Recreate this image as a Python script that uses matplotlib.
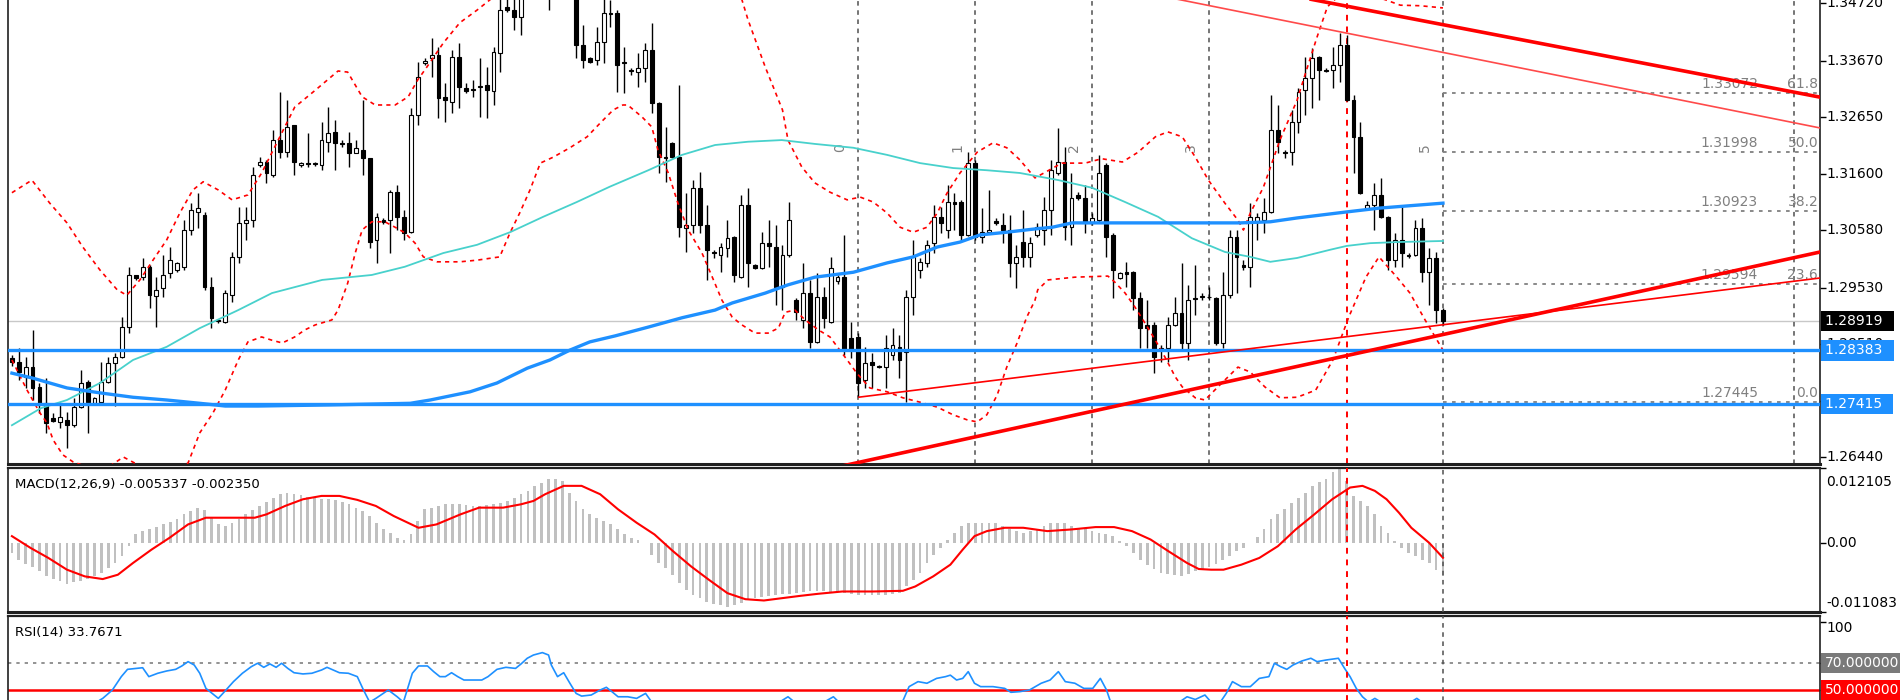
import numpy as np
import matplotlib
matplotlib.use('Agg')
import matplotlib.pyplot as plt
from matplotlib.transforms import blended_transform_factory

plt.rcParams['font.family'] = ['DejaVu Sans']

# ---------------- data (prices in units of 0.0001) ----------------
opens = [12825, 12817, 12790, 12808, 12772, 12742, 12715, 12708, 12712, 12702,
         12735, 12781, 12742, 12744, 12781, 12815, 12826, 12881, 12976, 12972,
         12991, 12938, 12952, 12980, 12985, 12991, 13058, 13091, 13085, 12954,
         12894, 12890, 12939, 13009, 13071, 13076, 13177, 13182, 13158, 13222,
         13200, 13250, 13177, 13180, 13180, 13177, 13219, 13237, 13217, 13217,
         13198, 13204, 13189, 13040, 13076, 13076, 13127, 13082, 13054, 13268,
         13363, 13372, 13377, 13301, 13291, 13374, 13317, 13315, 13319, 13323,
         13312, 13381, 13465, 13459, 13446, 13487, 13532, 13569, 13551, 13514,
         13587, 13623, 13532, 13395, 13372, 13368, 13401, 13454, 13454, 13364,
         13350, 13346, 13353, 13386, 13290, 13191, 13217, 13191, 13062, 13067,
         13135, 13067, 13018, 13012, 13025, 13045, 12972, 13104, 12994, 12989,
         13034, 13027, 12954, 13012, 12930, 12894, 12943, 12854, 12936, 12890,
         12965, 12972, 12861, 12863, 12784, 12817, 12810, 12808, 12830, 12845,
         12836, 12936, 12985, 12998, 13034, 13082, 13058, 13109, 13109, 13049,
         13180, 13045, 13054, 13074, 13067, 13058, 12998, 13036, 13009, 13049,
         13058, 13094, 13162, 13182, 13063, 13122, 13116, 13073, 13076, 13177,
         13049, 12970, 12981, 12981, 12934, 12885, 12885, 12843, 12843, 12885,
         12907, 12852, 12934, 12936, 12936, 12934, 12852, 12939, 13045, 12994,
         12991, 13073, 13076, 13091, 13240, 13200, 13200, 13255, 13313, 13335,
         13374, 13350, 13350, 13359, 13395, 13295, 13228, 13098, 13104, 13122,
         13082, 13003, 13040, 13012, 13012, 13062, 12981, 13007, 12912]
highs = [12830, 12843, 12826, 12876, 12779, 12788, 12724, 12739, 12726, 12752,
         12803, 12784, 12753, 12817, 12826, 12834, 12899, 12991, 12976, 13007,
         12994, 12972, 13012, 13027, 13000, 13076, 13107, 13125, 13091, 12972,
         12896, 12949, 13018, 13100, 13100, 13173, 13191, 13186, 13240, 13310,
         13295, 13250, 13182, 13235, 13182, 13255, 13282, 13259, 13222, 13237,
         13222, 13295, 13189, 13089, 13080, 13131, 13140, 13094, 13281, 13364,
         13372, 13408, 13392, 13326, 13386, 13399, 13326, 13332, 13372, 13355,
         13392, 13487, 13496, 13487, 13505, 13551, 13605, 13623, 13569, 13642,
         13654, 13642, 13541, 13432, 13374, 13428, 13483, 13478, 13459, 13392,
         13353, 13381, 13399, 13436, 13292, 13246, 13219, 13323, 13125, 13149,
         13164, 13104, 13022, 13034, 13076, 13047, 13122, 13135, 12996, 13054,
         13076, 13067, 13031, 13109, 12934, 12998, 12967, 12980, 12954, 13009,
         12976, 13049, 12890, 12870, 12845, 12834, 12812, 12867, 12879, 12867,
         12949, 13040, 13007, 13040, 13104, 13100, 13140, 13125, 13113, 13200,
         13186, 13098, 13131, 13080, 13089, 13085, 13031, 13094, 13045, 13071,
         13118, 13186, 13244, 13209, 13162, 13127, 13140, 13089, 13195, 13180,
         13053, 12981, 13000, 12983, 12945, 12930, 12890, 12848, 12899, 12936,
         12998, 12958, 12994, 12943, 12954, 12936, 12981, 13058, 13058, 13003,
         13107, 13089, 13116, 13304, 13286, 13204, 13277, 13317, 13374, 13390,
         13376, 13353, 13392, 13417, 13414, 13304, 13255, 13110, 13144, 13153,
         13084, 13053, 13104, 13016, 13076, 13080, 13025, 13018, 12916]
lows = [12810, 12784, 12770, 12748, 12724, 12688, 12708, 12697, 12660, 12699,
        12733, 12688, 12739, 12742, 12779, 12737, 12825, 12870, 12967, 12967,
        12916, 12881, 12936, 12970, 12981, 12985, 13049, 13062, 12949, 12879,
        12888, 12888, 12927, 12998, 13040, 13063, 13173, 13144, 13155, 13189,
        13191, 13158, 13173, 13173, 13175, 13167, 13200, 13167, 13209, 13173,
        13198, 13158, 13025, 12998, 13069, 13016, 13058, 13040, 13053, 13250,
        13359, 13337, 13262, 13255, 13271, 13281, 13308, 13301, 13264, 13262,
        13286, 13346, 13456, 13423, 13414, 13483, 13514, 13505, 13459, 13496,
        13569, 13514, 13372, 13353, 13363, 13359, 13363, 13428, 13310, 13308,
        13341, 13319, 13328, 13271, 13162, 13146, 13189, 13045, 13018, 13053,
        13053, 12967, 13007, 12981, 13009, 12963, 12970, 12954, 12987, 12987,
        12991, 12921, 12912, 13009, 12894, 12879, 12843, 12852, 12879, 12888,
        12960, 12830, 12825, 12753, 12770, 12770, 12806, 12770, 12821, 12788,
        12744, 12903, 12970, 12991, 13016, 13053, 13043, 13058, 13040, 13047,
        13040, 13034, 13051, 13067, 13034, 12972, 12952, 12991, 12991, 13045,
        13031, 13049, 13158, 13040, 13031, 13113, 13053, 13067, 13073, 13009,
        12934, 12969, 12954, 12912, 12843, 12843, 12797, 12817, 12817, 12883,
        12839, 12821, 12903, 12930, 12930, 12848, 12843, 12934, 12943, 12985,
        12954, 13040, 13053, 13089, 13198, 13189, 13177, 13235, 13268, 13281,
        13295, 13346, 13317, 13328, 13293, 13162, 13123, 13096, 13058, 13080,
        12985, 12991, 12991, 13007, 13010, 12963, 12921, 12888, 12885]
closes = [12817, 12799, 12808, 12770, 12742, 12706, 12710, 12717, 12702, 12735,
          12779, 12744, 12752, 12781, 12815, 12826, 12881, 12976, 12970, 12991,
          12939, 12949, 12976, 13003, 12998, 13058, 13094, 13098, 12954, 12898,
          12892, 12943, 13009, 13071, 13076, 13158, 13182, 13162, 13222, 13200,
          13246, 13182, 13180, 13178, 13178, 13222, 13235, 13217, 13215, 13198,
          13208, 13189, 13036, 13082, 13073, 13127, 13082, 13053, 13268, 13337,
          13366, 13377, 13299, 13295, 13374, 13319, 13312, 13313, 13321, 13313,
          13383, 13459, 13459, 13446, 13487, 13532, 13569, 13551, 13514, 13587,
          13623, 13532, 13395, 13368, 13364, 13401, 13454, 13452, 13359, 13363,
          13348, 13353, 13386, 13290, 13191, 13189, 13191, 13063, 13067, 13135,
          13067, 13022, 13016, 13027, 13043, 12976, 13104, 12998, 12989, 13034,
          13029, 12954, 13012, 13076, 12908, 12943, 12854, 12936, 12898, 12989,
          12972, 12839, 12839, 12779, 12815, 12812, 12808, 12843, 12848, 12821,
          12936, 13009, 13000, 13031, 13082, 13071, 13109, 13105, 13049, 13180,
          13045, 13054, 13058, 13071, 13058, 12998, 13009, 13009, 13034, 13063,
          13094, 13167, 13182, 13063, 13116, 13116, 13073, 13080, 13162, 13045,
          12985, 12980, 12978, 12934, 12879, 12879, 12826, 12841, 12885, 12907,
          12852, 12930, 12932, 12938, 12935, 12852, 12939, 13045, 13009, 12991,
          13082, 13082, 13091, 13240, 13219, 13198, 13255, 13310, 13335, 13372,
          13350, 13348, 13359, 13395, 13295, 13228, 13125, 13104, 13122, 13082,
          13003, 13040, 13016, 13011, 13062, 12981, 13007, 12912, 12892]

# moving averages (candle index, price 0.0001)
ma_slow_idx = [0, 3, 8, 12.8, 17.6, 22.5, 27.3, 31, 35.8, 46, 57.9, 60.8, 66.6, 70.5, 74.9,
               78.2, 81.1, 84, 87.7, 92.5, 97.4, 102.2, 104.7, 109.5, 112.8, 116.7, 122.3,
               127.2, 131, 134.5, 137.8, 140.7, 144.6, 148.7, 151.2, 154.1, 161.8, 178.5,
               182.9, 186.8, 194, 198.8, 208]
ma_slow_val = [12797, 12788, 12770, 12761, 12753, 12748, 12742, 12737, 12737, 12739, 12742,
               12748, 12763, 12779, 12806, 12821, 12839, 12854, 12865, 12881, 12898, 12912,
               12925, 12943, 12958, 12972, 12981, 12998, 13009, 13027, 13036, 13049, 13054,
               13060, 13063, 13071, 13071, 13071, 13073, 13080, 13091, 13098, 13107]
ma_fast_idx = [0, 4.2, 8, 12.8, 17.6, 22.5, 27.3, 32.9, 37.8, 45.1, 52.3, 57.1, 62.7, 67.6,
               72.4, 77.2, 82.1, 86.9, 92.5, 97.4, 102.2, 107, 111.9, 116.7, 122.3, 127.2,
               132, 136.8, 141.7, 146.5, 152.1, 157, 161.8, 166.6, 171.5, 176.3, 180, 182.9,
               186.8, 191.6, 194, 197.4, 201.3, 208]
ma_fast_val = [12702, 12733, 12748, 12779, 12821, 12845, 12879, 12912, 12943, 12967, 12976,
               12991, 13016, 13031, 13054, 13082, 13109, 13137, 13167, 13195, 13213, 13219,
               13222, 13215, 13208, 13195, 13180, 13171, 13167, 13162, 13149, 13135, 13109,
               13082, 13043, 13018, 13009, 13000, 13007, 13022, 13029, 13034, 13036, 13038]

# bollinger bands
bb_up_idx = [0, 2.9, 5.5, 8, 10.3, 12.8, 15.3, 16.7, 18.6, 20.5, 22.5, 24.4, 26.3, 27.8, 30,
             32, 34.3, 36.3, 38.7, 41.1, 44.1, 47.4, 48.8, 50.9, 52.8, 55.7, 57.6, 59, 60.3,
             62.7, 65.1, 67.6, 69.5, 75, 82, 90, 97, 103, 106.1, 107, 109.5, 112, 112.8,
             114.8, 116.7, 118.9, 121.4, 123.3, 125.2, 127.2, 129.1, 131, 133, 134.5, 135.9,
             137.8, 140.3, 142.6, 144.6, 146.5, 148.7, 152.6, 156, 158.4, 161.4, 163.7,
             166.2, 168, 170.1, 172, 173.9, 176.3, 178.2, 179, 180, 181.9, 184.3, 186.8,
             188.3, 189.7, 191.2, 193, 196, 199.6, 201.8, 204.7, 208]
bb_up_val = [13126, 13149, 13107, 13071, 13027, 12985, 12949, 12939, 12967, 13003, 13040,
             13089, 13131, 13146, 13131, 13113, 13122, 13162, 13222, 13282, 13313, 13348,
             13346, 13301, 13286, 13286, 13301, 13332, 13355, 13399, 13436, 13459, 13478,
             13532, 13578, 13605, 13569, 13514, 13478, 13441, 13355, 13277, 13222, 13173,
             13144, 13127, 13113, 13118, 13109, 13089, 13063, 13054, 13063, 13089, 13125,
             13162, 13200, 13217, 13208, 13186, 13153, 13180, 13180, 13188, 13182, 13200,
             13228, 13237, 13228, 13191, 13149, 13107, 13076, 13058, 13089, 13136, 13222,
             13295, 13355, 13410, 13465, 13487, 13492, 13478, 13468, 13467, 13463]
bb_lo_idx = [0, 2.2, 4.1, 5.1, 6, 7.4, 8.9, 11.4, 14.3, 16.2, 18.6, 22.3, 25.6, 27.3, 29.2,
             31, 32.9, 34.3, 36.3, 37.8, 39.3, 41.1, 42.6, 44.1, 46.5, 47.4, 48.8, 49.9,
             50.9, 52.3, 54.2, 55.7, 57.1, 58.6, 59.8, 61.8, 65.1, 67.6, 70.9, 72.4, 73.8,
             75.3, 76.8, 78.7, 81.1, 83.6, 85.5, 87.4, 88.8, 89.5, 91.6, 93, 93.9, 95.4,
             96.8, 98.3, 100.3, 101.8, 103.2, 104.7, 106.1, 108, 109.9, 111.4, 112.4, 113.8,
             115.3, 117.2, 118.9, 121.4, 122.8, 124.7, 127.2, 129.5, 132, 134.5, 136.8,
             138.8, 140.3, 141.7, 143.2, 144.6, 146.1, 147.5, 148.7, 149.1, 150.6, 154.5,
             159.3, 160.3, 161.8, 163.2, 164.7, 166.2, 167.6, 169.1, 170.1, 172, 173.4,
             175.3, 178.2, 180, 182.1, 184.3, 186.8, 189.5, 192, 194.3, 196.8, 198.7,
             201.3, 203.2, 205.4, 208]
bb_lo_val = [12821, 12766, 12724, 12706, 12675, 12648, 12635, 12624, 12628, 12644, 12628,
             12620, 12633, 12688, 12724, 12766, 12821, 12854, 12863, 12857, 12852, 12863,
             12876, 12885, 12894, 12912, 12961, 13016, 13058, 13073, 13073, 13063, 13053,
             13034, 13009, 13000, 13000, 13003, 13009, 13053, 13089, 13131, 13180, 13191,
             13208, 13228, 13253, 13277, 13286, 13286, 13264, 13246, 13204, 13162, 13107,
             13058, 13016, 12972, 12930, 12899, 12885, 12870, 12870, 12879, 12908, 12912,
             12894, 12876, 12863, 12821, 12797, 12770, 12763, 12752, 12744, 12735, 12721,
             12712, 12708, 12721, 12757, 12808, 12852, 12899, 12930, 12949, 12967, 12972,
             12974, 12963, 12943, 12918, 12888, 12857, 12826, 12790, 12772, 12752, 12748,
             12772, 12808, 12799, 12772, 12752, 12753, 12766, 12821, 12899, 12972, 13009,
             12972, 12943, 12894, 12839]

# MACD histogram per candle and signal line (units of 0.00001)
macd_hist = [-157, -265, -329, -389, -454, -524, -572, -616, -653, -626,
             -605, -572, -535, -481, -400, -319, -211, -49, 140, 194,
             221, 259, 302, 346, 394, 464, 518, 572, 535, 410,
             302, 275, 329, 394, 464, 535, 599, 664, 734, 788,
             815, 799, 772, 751, 734, 718, 707, 691, 670, 626,
             572, 518, 437, 329, 221, 157, 86, 59, 140, 356,
             545, 572, 599, 626, 626, 626, 610, 599, 599, 610,
             626, 653, 680, 734, 788, 842, 923, 977, 1031, 1031,
             1004, 815, 680, 545, 464, 410, 356, 302, 221, 140,
             86, 49, 5, -184, -319, -400, -508, -643, -751, -832,
             -886, -940, -977, -994, -1021, -994, -956, -913, -886, -859,
             -848, -832, -821, -815, -805, -783, -778, -778, -778, -783,
             -794, -805, -821, -832, -832, -832, -832, -832, -821, -805,
             -697, -589, -481, -319, -184, -76, 59, 167, 275, 329,
             329, 329, 329, 329, 275, 221, 194, 167, 194, 221,
             275, 329, 329, 329, 275, 248, 221, 194, 167, 140,
             113, 32, -49, -157, -265, -346, -416, -481, -497, -508,
             -535, -491, -454, -427, -383, -329, -265, -211, -130, -76,
             5, 103, 221, 383, 464, 545, 653, 734, 815, 923,
             988, 1031, 1150, 1210, 1000, 761, 680, 599, 464, 275,
             167, 32, -76, -157, -211, -265, -319, -427, -534]
sig_idx = [0, 2.7, 5.3, 8, 10.6, 13.2, 15.4, 17.6, 20.3, 22.9, 25.6, 28.2, 31.7, 35.3, 37,
           39.7, 42.3, 45, 47.6, 50.2, 52.9, 55.5, 59.1, 61.7, 65.2, 67.9, 71.4, 74, 75.8,
           77.5, 80.2, 82.8, 85.5, 88.1, 90.8, 93.4, 96.1, 98.7, 101.3, 104, 106.6, 109.3,
           111.9, 114.6, 117.2, 120.7, 125.1, 129.5, 131.3, 133.9, 136.4, 138.2, 139.9,
           141.7, 144.3, 147, 150.5, 154, 157.5, 160.2, 162.8, 165.5, 168.1, 170.8, 172.5,
           174.3, 176.1, 178.7, 181.3, 184, 186.6, 189.3, 191.9, 194.5, 196.3, 198.1,
           199.8, 201.6, 203.4, 206, 208]
sig_val = [113, -76, -238, -427, -535, -578, -508, -319, -103, 86, 302, 410, 410, 410, 464,
           599, 707, 761, 761, 697, 599, 437, 248, 302, 464, 572, 572, 626, 680, 788, 923,
           923, 788, 545, 329, 140, -130, -373, -589, -805, -902, -923, -886, -848, -815,
           -778, -778, -767, -697, -535, -346, -103, 113, 194, 248, 248, 194, 221, 259, 259,
           194, 59, -130, -319, -416, -427, -427, -346, -238, -49, 221, 464, 707, 896, 923,
           842, 707, 491, 248, 5, -235]

# RSI(14)
rsi_idx = [0, 3, 6, 9, 11, 12.8, 13.2, 14.6, 15.9, 16.8, 18.1, 19, 19.9, 21.2, 22.5, 23.8,
           24.7, 25.6, 26.5, 27.3, 28.2, 29.1, 30, 30.9, 32.2, 33.5, 34.8, 35.7, 36.6, 37.5,
           38.4, 39.2, 40.1, 41, 42.3, 43.6, 45, 45.8, 46.7, 47.6, 48.9, 50.2, 51.1, 52,
           52.9, 54.7, 56, 56.9, 58.2, 59.1, 60.4, 61.3, 62.2, 63, 63.9, 64.8, 65.7, 67,
           68.3, 69.2, 70.5, 71.8, 73.2, 74, 74.9, 75.8, 77.1, 78, 78.4, 79.3, 80.2, 81.1,
           82, 82.8, 84.2, 85.5, 86.4, 87.2, 88.1, 89.5, 90.8, 92.1, 93, 95, 98, 101, 104,
           107, 110, 112.8, 114, 117, 119.4, 121, 124, 127, 129.5, 130.4, 131.7, 133,
           134.4, 135.7, 136.4, 137.3, 138.2, 139, 139.9, 140.8, 142.6, 144.3, 145.2,
           146.5, 147.9, 149.6, 150.9, 152.1, 153.1, 154.5, 155.8, 157.1, 158.2, 159.1,
           159.7, 162, 165, 168, 170.8, 172, 173.4, 174.3, 175.5, 176.5, 177.4, 178.7, 180,
           181.3, 182.7, 183.5, 184.4, 185.3, 186.2, 187.5, 188.8, 189.7, 191, 192.8,
           193.7, 194.5, 195.4, 196.3, 197.2, 198.1, 199, 201, 203, 204.2, 206, 208]
rsi_val = [36, 31, 28, 30, 36, 42.6, 43.8, 50, 59.9, 65.3, 66.0, 66.5, 59.9, 62.4, 64.1, 65.3,
           67.8, 71.0, 68.5, 62.4, 51.2, 47.5, 43.8, 48.8, 56.2, 62.4, 67.3, 69.8, 66.8, 69.3,
           66.8, 69.8, 66.0, 62.8, 61.9, 62.4, 64.8, 66.8, 64.8, 62.8, 62.4, 59.9, 50, 41,
           43.8, 50, 45, 41, 62.4, 67.8, 67.8, 63.6, 59.9, 59.9, 62.8, 59.9, 57.4, 57.4,
           57.4, 59.9, 65.3, 66.8, 66.0, 69.3, 73.5, 75.9, 77.7, 75.9, 68.5, 59.9, 62.8, 55,
           47.5, 45.5, 46.3, 50, 52, 48.8, 45, 45, 43.8, 47.5, 41, 33, 28, 25, 27,
           31, 36, 45, 40, 38, 45, 37, 30, 33, 42, 52.5, 56.2, 55,
           58.6, 59.9, 61, 57.4, 58.6, 63.6, 55, 52.5, 52.5, 51.2, 48.3,
           48.8, 50, 55, 57.4, 63.6, 56.2, 55, 51.2, 51.2, 58.6, 50,
           41, 36, 32, 35, 45, 43, 46.3, 41, 40, 47.5, 56.2, 52.5, 52.5,
           58.6, 59.9, 69.8, 67.3, 65.3, 68.5, 71.5, 73.5, 71, 72.2, 73.5,
           66.0, 59.9, 51.2, 45, 41, 43.8, 41, 38, 40, 43.8, 37, 33.77]

# chart objects
price_ticks = [1.34720, 1.33670, 1.32650, 1.31600, 1.30580, 1.29530, 1.28510, 1.27460, 1.26440]
hidden_tick = 1.27460  # sits fully under the 1.27415 tag
support_levels = [1.28383, 1.27415]
bid_price = 1.28919
fib_levels = [1.27445, 1.29594, 1.30923, 1.31998, 1.33072]
fib_pcts = ['0.0', '23.6', '38.2', '50.0', '61.8']
fib_zone_idx = [123, 140, 157, 174, 208, 259]
fib_zone_lbl = ['0', '1', '2', '3', '5', '']
red_vline_idx = 194
trend_thick_up = ([120, 265], [1.26258, 1.30239])
trend_thin_up = ([123, 265], [1.27530, 1.29739])
trend_thick_dn = ([180, 265], [1.35000, 1.32950])
trend_thin_dn = ([160, 265], [1.35025, 1.32386])

# ---------------- drawing ----------------
P = 1e-4
o = np.array(opens) * P
h = np.array(highs) * P
l = np.array(lows) * P
c = np.array(closes) * P
idx = np.arange(len(o))

W, H = 1900, 700
fig = plt.figure(figsize=(W / 100, H / 100), dpi=100)


def box(x0, y0, x1, y1):
    return [x0 / W, 1 - y1 / H, (x1 - x0) / W, (y1 - y0) / H]


ax = fig.add_axes(box(8, -2, 1820, 464))
axm = fig.add_axes(box(8, 468, 1820, 612))
axr = fig.add_axes(box(8, 616, 1820, 705))
XL = (-0.57, 262.8)
BLUE = '#1E90FF'
GRAY = '#808080'

for a in (ax, axm, axr):
    a.set_xlim(*XL)
    a.set_xticks([])
    a.yaxis.tick_right()
    a.tick_params(axis='y', length=4, width=1, labelright=False, left=False)
    for s in a.spines.values():
        s.set_color('#202020')
        s.set_linewidth(1.2)
ax.spines['top'].set_visible(False)
ax.spines['bottom'].set_linewidth(2.2)
axm.spines['top'].set_linewidth(1.6)
axm.spines['bottom'].set_linewidth(2.2)
axr.spines['top'].set_linewidth(1.6)
axr.spines['bottom'].set_visible(False)

# main panel
ax.set_ylim(1.26313, 1.34811)
ax.axhline(bid_price, color='#C8C8C8', lw=1, zorder=1)
for xi, lb in zip(fib_zone_idx, fib_zone_lbl):
    ax.axvline(xi, color='#505050', lw=1.1, ls=(0, (3, 3)), zorder=1)
    if lb:
        ax.text(xi - 2.6, 1.3209, lb, rotation=90, color=GRAY, fontsize=10,
                ha='center', va='center', zorder=1)
ax.axvline(red_vline_idx, color='red', lw=1.4, ls=(0, (3, 3)), zorder=1)

up = c >= o
ax.vlines(idx, l, h, color='black', lw=1, zorder=3)
ax.bar(idx, np.maximum(np.abs(c - o), 0.00004), bottom=np.minimum(o, c), width=0.56,
       color=['white' if u else 'black' for u in up], edgecolor='black', linewidth=0.8, zorder=4)

ax.plot(bb_up_idx, np.array(bb_up_val) * P, color='red', lw=1.2, ls=(0, (2.5, 2.5)), zorder=5)
ax.plot(bb_lo_idx, np.array(bb_lo_val) * P, color='red', lw=1.2, ls=(0, (2.5, 2.5)), zorder=5)
ax.plot(ma_fast_idx, np.array(ma_fast_val) * P, color='#48D1CC', lw=1.3, zorder=5)
ax.plot(ma_slow_idx, np.array(ma_slow_val) * P, color=BLUE, lw=2.4, zorder=5)

for lv in support_levels:
    ax.axhline(lv, color=BLUE, lw=2.4, zorder=6)
for line, lw, col in [(trend_thick_up, 2.6, 'red'), (trend_thin_up, 1.2, 'red'),
                      (trend_thick_dn, 2.6, 'red'), (trend_thin_dn, 1.2, '#FF4A4A')]:
    ax.plot(line[0], line[1], color=col, lw=lw, zorder=6, solid_capstyle='butt')

trm = blended_transform_factory(ax.transAxes, ax.transData)
ax.hlines(fib_levels, fib_zone_idx[4], XL[1], colors=GRAY, lw=1.3, ls=(0, (2, 3)), zorder=2)
for lv, pc in zip(fib_levels, fib_pcts):
    ax.annotate(f'{lv:.5f}', (0.9658, lv), xycoords=trm, xytext=(0, 1.5),
                textcoords='offset points', ha='right', va='bottom', color=GRAY, fontsize=10)
    ax.annotate(pc, (0.999, lv), xycoords=trm, xytext=(0, 1.5),
                textcoords='offset points', ha='right', va='bottom', color=GRAY, fontsize=10)

ax.set_yticks(price_ticks)
for v in price_ticks:
    if v == hidden_tick:
        continue
    ax.text(1.0035, v, f'{v:.5f}', transform=trm, ha='left', va='center', fontsize=10,
            clip_on=False, zorder=3)
for v, fc in [(bid_price, 'black'), (support_levels[0], BLUE), (support_levels[1], BLUE)]:
    ax.text(1.0025, v, f'{v:.5f}  ', transform=trm, ha='left', va='center', fontsize=10,
            color='white', clip_on=False, zorder=10,
            bbox=dict(boxstyle='square,pad=0.22', fc=fc, ec='none'))

# MACD panel
axm.set_ylim(-0.011083, 0.012105)
axm.bar(idx, np.array(macd_hist) * 1e-5, width=0.4, color='#C0C0C0', zorder=2)
axm.plot(sig_idx, np.array(sig_val) * 1e-5, color='red', lw=1.5, zorder=3)
axm.axvline(red_vline_idx, color='red', lw=1.4, ls=(0, (3, 3)), zorder=4)
axm.axvline(fib_zone_idx[4], color='#505050', lw=1.1, ls=(0, (3, 3)), zorder=4)
axm.set_yticks([0.012105, 0.0, -0.011083])
axm.text(0.004, 0.882, 'MACD(12,26,9) -0.005337 -0.002350', transform=axm.transAxes,
         fontsize=9.5, ha='left', va='center')
axm.text(1.0035, 0.903, '0.012105', transform=axm.transAxes, fontsize=10, va='center', clip_on=False)
axm.text(1.0035, 0.0, '0.00', transform=blended_transform_factory(axm.transAxes, axm.transData),
         fontsize=10, va='center', clip_on=False)
axm.text(1.0035, 0.0625, '-0.011083', transform=axm.transAxes, fontsize=10, va='center', clip_on=False)

# RSI panel
axr.set_ylim(38.9, 104.8)
axr.axhline(70, color=GRAY, lw=1.2, ls=(0, (2, 3)), zorder=1)
axr.axhline(50, color='red', lw=1.8, zorder=2)
axr.plot(rsi_idx, rsi_val, color=BLUE, lw=1.2, zorder=3)
axr.axvline(red_vline_idx, color='red', lw=1.4, ls=(0, (3, 3)), zorder=4)
axr.axvline(fib_zone_idx[4], color='#505050', lw=1.1, ls=(0, (3, 3)), zorder=4)
axr.set_yticks([100, 70, 50])
trr = blended_transform_factory(axr.transAxes, axr.transData)
axr.text(0.004, 0.82, 'RSI(14) 33.7671', transform=axr.transAxes, fontsize=9.5,
         ha='left', va='center')
axr.text(1.0035, 0.865, '100', transform=axr.transAxes, fontsize=10, va='center', clip_on=False)
axr.text(1.0025, 70, '70.000000', transform=trr, fontsize=10, va='center', color='white',
         clip_on=False, bbox=dict(boxstyle='square,pad=0.22', fc='#7A7A7A', ec='none'))
axr.text(1.0025, 50, '50.000000', transform=trr, fontsize=10, va='center', color='white',
         clip_on=False, bbox=dict(boxstyle='square,pad=0.22', fc='#FF0000', ec='none'))

fig.savefig('out.png', dpi=100)
